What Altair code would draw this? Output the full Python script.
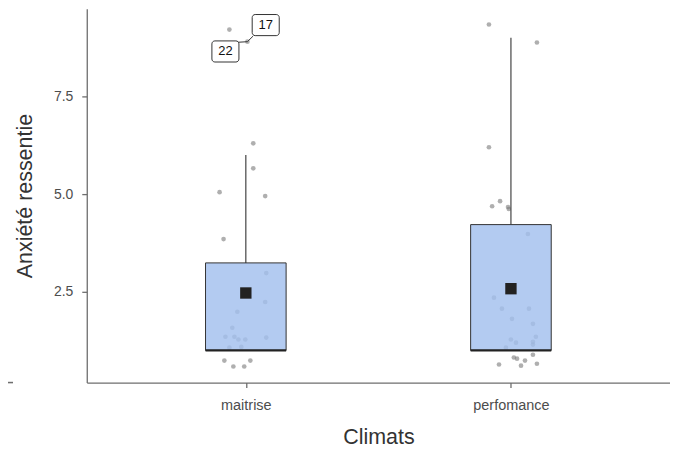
import altair as alt
import pandas as pd

# ---- data ----
categories = ["maitrise", "perfomance"]
cat_pos = [1, 2]
q1 = [1.0, 1.0]
median = [1.0, 1.0]
q3 = [3.24, 4.22]
whisker_hi = [6.0, 9.0]
means = [2.47, 2.58]

maitrise_vals = [9.21, 8.90, 6.30, 5.66, 5.05, 4.95, 3.85, 2.98, 2.24, 1.99, 1.58,
                 1.35, 1.35, 1.28, 1.28, 1.33, 1.07, 1.09, 0.74, 0.59, 0.59, 0.74]
maitrise_jit = [-0.062, 0.006, 0.028, 0.028, -0.099, 0.073, -0.084, 0.077, 0.073, -0.032, -0.051,
                -0.077, -0.043, -0.028, -0.002, 0.077, -0.062, -0.017, -0.081, -0.047, -0.006, 0.017]
perf_vals = [9.34, 8.88, 6.20, 4.82, 4.69, 4.67, 4.62, 3.98, 2.35, 2.07, 2.07, 1.81, 1.68,
             1.35, 1.28, 1.20, 1.22, 1.15, 1.07, 0.89, 0.82, 0.79, 0.74, 0.64, 0.61, 0.66]
perf_jit = [-0.083, 0.098, -0.083, -0.041, -0.071, -0.011, -0.008, 0.064, -0.064, -0.034, 0.068,
            0.004, 0.083, 0.094, 0.0, 0.019, 0.083, 0.083, -0.019, 0.083, 0.011, 0.023, 0.053,
            -0.045, 0.038, 0.098]

label_text = ["17", "22"]
label_x = [1.075, 0.923]
label_y = [9.325, 8.65]
label_pt_x = [1.006, 1.006]
label_pt_y = [8.90, 8.90]
seg_end_x = [1.027, 0.957]
seg_end_y = [9.04, 8.88]

# ---- tables ----
summary = pd.DataFrame({"cat": categories, "pos": cat_pos, "q1": q1, "median": median,
                        "q3": q3, "hi": whisker_hi, "mean": means})
points = pd.DataFrame({
    "x": [1 + j for j in maitrise_jit] + [2 + j for j in perf_jit],
    "y": maitrise_vals + perf_vals,
})
labels = pd.DataFrame({"text": label_text, "x": label_x, "y": label_y,
                       "px": label_pt_x, "py": label_pt_y, "sx": seg_end_x, "sy": seg_end_y})

BOX_HALF = 0.152
xscale = alt.Scale(domain=[0.4, 2.6], nice=False, zero=False)
yscale = alt.Scale(domain=[0.179, 9.745], nice=False, zero=False)

xaxis = alt.Axis(values=[1, 2], labelExpr="datum.value == 1 ? 'maitrise' : 'perfomance'",
                 title="Climats", grid=False)
yaxis = alt.Axis(values=[2.5, 5.0, 7.5], format=".1f", title="Anxiété ressentie", grid=False)

pts = alt.Chart(points).mark_circle(size=22, color="#7a7a7a", opacity=0.6).encode(
    x=alt.X("x:Q", scale=xscale, axis=xaxis),
    y=alt.Y("y:Q", scale=yscale, axis=yaxis),
)

whisk = alt.Chart(summary).mark_rule(color="#444444", strokeWidth=1.2).encode(
    x="pos:Q", y="q3:Q", y2="hi:Q"
)

box = alt.Chart(summary).transform_calculate(
    xl=f"datum.pos - {BOX_HALF}", xr=f"datum.pos + {BOX_HALF}"
).mark_rect(fill="#a2c0ee", fillOpacity=0.82, stroke="#333333", strokeWidth=1).encode(
    x="xl:Q", x2="xr:Q", y="q1:Q", y2="q3:Q"
)

med = alt.Chart(summary).transform_calculate(
    xl=f"datum.pos - {BOX_HALF}", xr=f"datum.pos + {BOX_HALF}"
).mark_rule(color="#222222", strokeWidth=2.2).encode(
    x="xl:Q", x2="xr:Q", y="median:Q"
)

mean_pt = alt.Chart(summary).mark_square(size=130, color="#222222", opacity=1).encode(
    x="pos:Q", y="mean:Q"
)

seg = alt.Chart(labels).mark_rule(color="#333333", strokeWidth=1).encode(
    x="px:Q", y="py:Q", x2="sx:Q", y2="sy:Q"
)

lab_box = alt.Chart(labels).transform_calculate(
    xl="datum.x - 0.051", xr="datum.x + 0.051", yl="datum.y - 0.27", yh="datum.y + 0.27"
).mark_rect(fill="white", stroke="#333333", strokeWidth=1, cornerRadius=3).encode(
    x="xl:Q", x2="xr:Q", y="yl:Q", y2="yh:Q"
)

lab_txt = alt.Chart(labels).mark_text(fontSize=13, color="#111111", font="Liberation Sans").encode(
    x="x:Q", y="y:Q", text="text:N"
)

stub = alt.Chart(summary).mark_rule(color="#6e6e6e", strokeWidth=1.3).encode(
    x=alt.value(-87), x2=alt.value(-74), y=alt.value(375)
)

chart = alt.layer(pts, whisk, box, med, mean_pt, seg, lab_box, lab_txt, stub).properties(
    width=585, height=375,
    autosize=alt.AutoSizeParams(type="none"),
    padding={"left": 79, "top": 0, "right": 0, "bottom": 66},
).configure_view(stroke=None).configure_axis(
    domainColor="#6e6e6e", domainWidth=1.3, tickColor="#6e6e6e", tickWidth=1.3, tickSize=5,
    labelColor="#4d4d4d", labelFont="Liberation Sans",
    titleColor="#333333", titleFont="Liberation Sans", titleFontWeight="normal",
).configure_axisX(labelPadding=11, labelFontSize=14.5, titlePadding=15, titleFontSize=21.5
).configure_axisY(labelPadding=9, labelFontSize=14, titlePadding=17, titleFontSize=21.5)

chart.save("out.html", embed_options={"renderer": "svg", "actions": False})
